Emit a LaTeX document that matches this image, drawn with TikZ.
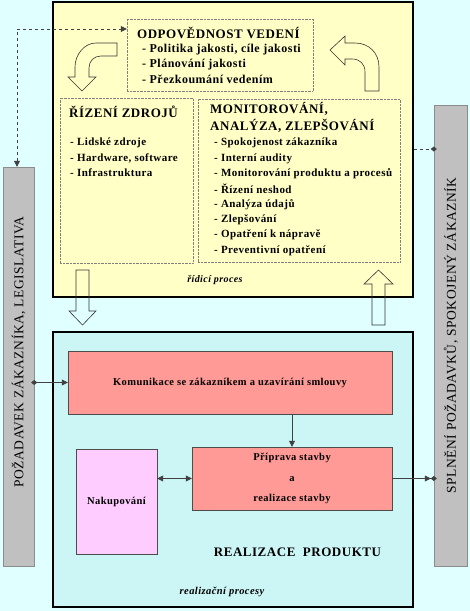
\documentclass[tikz,border=0pt]{standalone}
\usepackage{fontspec}
\setmainfont{Liberation Serif}[LetterSpace=4]
\usetikzlibrary{arrows.meta, positioning}

\definecolor{bgcyan}{HTML}{E0FFFF}
\definecolor{boxyellow}{HTML}{FFFFC6}
\definecolor{realcyan}{HTML}{CCF6F6}
\definecolor{salmon}{HTML}{FF9A96}
\definecolor{lilac}{HTML}{FFCCFF}
\definecolor{bargray}{HTML}{C0C0C0}

\begin{document}
\begin{tikzpicture}[x=1pt, y=-1pt, >={Triangle[length=6pt,width=6pt]},
    procbox/.style={draw=black, line width=2pt, inner sep=0pt},
    subbox/.style={draw=gray, densely dotted, inner sep=0pt},
    bar/.style={draw=gray!90, fill=bargray, inner sep=0pt},
    actbox/.style={draw=black!70, inner sep=0pt, font=\fontsize{10.5}{13}\selectfont\bfseries},
    title/.style={anchor=west, inner sep=0pt, font=\fontsize{13}{17}\selectfont\bfseries},
    item/.style={anchor=west, inner sep=0pt, font=\fontsize{11}{14}\selectfont\bfseries},
    bartext/.style={rotate=90, inner sep=0pt, font=\fontsize{13.5}{15}\selectfont, text=black},
    hollow/.style={draw=black!80, line width=0.6pt},
    link/.style={draw=black!75, line width=0.7pt}]
    \fill[bgcyan] (0,0) rectangle (470,611);
    \useasboundingbox (0,0) rectangle (470,611);

    % side bars
    \node[bar, minimum width=31pt, minimum height=399pt] (pozad) at (18.5,366.5) {};
    \node[bartext] (pozadT) at (18.5,352) {POŽADAVEK ZÁKAZNÍKA, LEGISLATIVA};
    \node[bar, minimum width=33pt, minimum height=461pt] (spln) at (450.5,335.5) {};
    \node[bartext] (splnT) at (451,335.5) {SPLNĚNÍ POŽADAVKŮ, SPOKOJENÝ ZÁKAZNÍK};

    % ridici proces
    \node[procbox, fill=boxyellow, minimum width=360pt, minimum height=295pt] (ridici) at (233,149.5) {};
    \node[subbox, minimum width=186pt, minimum height=72pt] (odp) at (220,55) {};
    \node[subbox, minimum width=133pt, minimum height=165pt] (zdroje) at (126.5,180.5) {};
    \node[subbox, minimum width=202pt, minimum height=163pt] (monit) at (299,180.5) {};

    \node[title] (odpT) at (137,33) {ODPOVĚDNOST VEDENÍ};
    \node[item, font=\fontsize{12}{14}\selectfont\bfseries] (odp1) at (142,50) {- Politika jakosti, cíle jakosti};
    \node[item, font=\fontsize{12}{14}\selectfont\bfseries] (odp2) at (142,64.5) {- Plánování jakosti};
    \node[item, font=\fontsize{12}{14}\selectfont\bfseries] (odp3) at (142,79) {- Přezkoumání vedením};

    \node[title] (zdrojeT) at (69,112) {ŘÍZENÍ ZDROJŮ};
    \node[item] (zdr1) at (70,143) {- Lidské zdroje};
    \node[item] (zdr2) at (70,158) {- Hardware, software};
    \node[item] (zdr3) at (70,173) {- Infrastruktura};

    \node[title, align=left] (monitT) at (210,117.5) {MONITOROVÁNÍ,\\ANALÝZA, ZLEPŠOVÁNÍ};
    \foreach \t [count=\i] in {Spokojenost zákazníka, Interní audity,
        Monitorování produktu a procesů, Řízení neshod, Analýza údajů,
        Zlepšování, Opatření k nápravě, Preventivní opatření}
      \node[item] (mon\i) at (214,128+15.3*\i) {- \t};

    \node[font=\fontsize{10}{12}\selectfont\bfseries\itshape] (ridiciT) at (215,280) {řídicí proces};

    % curved arrows
    \draw[hollow] (117,43) -- (96,43) .. controls (84,43) and (75,55) .. (75,67) -- (75,77) -- (68,77)
        -- (82,91) -- (96,77) -- (89,77) -- (89,68) .. controls (89,61) and (94,56) .. (101,56) -- (117,56) -- cycle;
    \draw[hollow] (330,50) -- (345,36) -- (345,43) -- (355,43) .. controls (369,43) and (379,53) .. (379,67)
        -- (379,91) -- (365,91) -- (365,72) .. controls (365,64) and (360,59) .. (352,59) -- (345,59) -- (345,65) -- cycle;

    % realizace produktu
    \node[procbox, fill=realcyan, minimum width=360pt, minimum height=275pt] (realiz) at (233,469.5) {};
    \node[actbox, fill=salmon, minimum width=324pt, minimum height=63pt] (komun) at (230,382.5)
        {Komunikace se zákazníkem a uzavírání smlouvy};
    \node[actbox, fill=salmon, minimum width=200pt, minimum height=63pt, align=center,
        font=\fontsize{10.5}{20.5}\selectfont\bfseries] (priprava) at (292,478.5)
        {Příprava stavby\\a\\realizace stavby};
    \node[actbox, fill=lilac, minimum width=81pt, minimum height=105pt] (nakup) at (116.5,501.5) {Nakupování};
    \node[font=\fontsize{13}{15}\selectfont\bfseries] (realizT) at (297.5,552) {REALIZACE\ \ PRODUKTU};
    \node[font=\fontsize{10.5}{12}\selectfont\bfseries\itshape] (realizP) at (222,592) {realizační procesy};

    % block arrows between the two processes
    \draw[hollow] (76,270) -- (89,270) -- (89,311) -- (96,311) -- (82.5,325) -- (69,311) -- (76,311) -- cycle;
    \draw[hollow] (372,325) -- (385,325) -- (385,284) -- (393,284) -- (378.5,270) -- (364,284) -- (372,284) -- cycle;

    % connectors
    \coordinate (topdash) at (17,29);
    \coordinate (rdash) at (0,149);
    \draw[link, dashed, <->] (pozad.north -| topdash) |- (odp.west |- topdash);
    \draw[link, dashed, -{Diamond[length=6pt,width=5pt]}] (ridici.east |- rdash) -- ([xshift=3pt]spln.west |- rdash);
    \draw[link, {Diamond[length=6pt,width=5pt]}->] ([xshift=-3pt]pozad.east |- komun.west) -- (komun.west);
    \draw[link, ->] (komun.south -| priprava.north) -- (priprava.north);
    \draw[link, <->] (nakup.east |- priprava.west) -- (priprava.west);
    \draw[link, -{Triangle[length=6pt,width=6pt]Diamond[length=6pt,width=5pt]}] (priprava.east) -- ([xshift=3pt]spln.west |- priprava.east);
\end{tikzpicture}
\end{document}
